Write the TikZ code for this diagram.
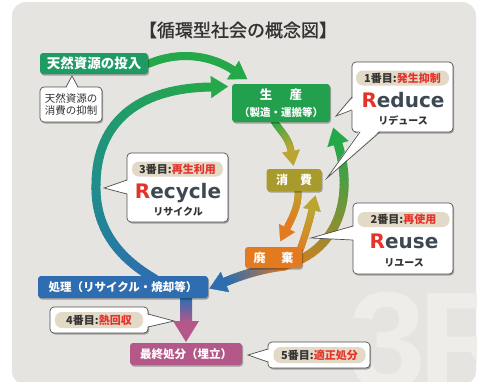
\documentclass[tikz,border=0pt]{standalone}
\usepackage{fontspec}
\setmainfont{Noto Sans CJK JP}
\newfontfamily\titlefont[FakeBold=1.2]{Noto Sans CJK JP}
\newfontfamily\latinbold{DejaVu Sans}
\newfontfamily\wmfont{Liberation Sans}
\usetikzlibrary{arrows.meta,shadows,calc}
\pgfdeclarelayer{bg}
\pgfdeclarelayer{arr}
\pgfsetlayers{bg,arr,main}
\definecolor{panel}{HTML}{E5E4E0}
\definecolor{wm}{HTML}{EEEDEA}
\definecolor{gA}{HTML}{1E9A63}
\definecolor{gB}{HTML}{22A04E}
\definecolor{arrG}{HTML}{25A84A}
\definecolor{olive}{HTML}{A99B2B}
\definecolor{oliveY}{HTML}{BBA532}
\definecolor{orng}{HTML}{E47A1F}
\definecolor{blu}{HTML}{2D6DB0}
\definecolor{tealc}{HTML}{1F8E8C}
\definecolor{pnk}{HTML}{B4588A}
\definecolor{redT}{HTML}{E5322B}
\definecolor{darkT}{HTML}{333333}
\definecolor{slate}{HTML}{3C4852}
\definecolor{pill}{HTML}{E3D9C7}
\definecolor{cbord}{HTML}{505050}
% gradient curve: start, c1, c2, end, colour start, colour end, width
\newcommand{\gseg}[7]{%
  \path (#1) .. controls (#2) and (#3) .. (#4)
    \foreach \k in {0,...,30}{ coordinate[pos=\k/30] (gq\k) };
  \foreach \k [evaluate=\k as \kn using int(\k+1), evaluate=\k as \pc using int((\k+0.5)*100/30)] in {0,...,29}{%
    \colorlet{gqc}{#6!\pc!#5}%
    \draw[line width=#7, line cap=round, gqc] (gq\k) -- (gq\kn);
  }%
}
% arrow head at end of last gradient curve: colour, length, width
\newcommand{\ghead}[3]{%
  \draw[line width=0.3pt, #1, -{Triangle[length=#2, width=#3]}, shorten >=-#2] (gq29) -- (gq30);
}
% callout box: name, x1, y1, x2, y2
\newcommand{\cbox}[5]{%
  \draw[cbord, line width=0.7pt, fill=white, rounded corners=4pt,
    drop shadow={shadow xshift=1.2pt,shadow yshift=-1.5pt,fill=black,opacity=0.3}] (#2,#3) rectangle (#4,#5);
  \coordinate (#1) at ($(#2,#3)!0.5!(#4,#5)$);
}
% pointer: base1, base2, tip, inset
\newcommand{\cptr}[4]{%
  \fill[white] ($(#1)+(#4)$) -- (#3) -- ($(#2)+(#4)$) -- cycle;
  \draw[cbord, line width=0.7pt, line join=miter] (#1) -- (#3) -- (#2);
}
\begin{document}
\begin{tikzpicture}[x=1pt,y=-1pt,
  boxn/.style={rounded corners=3pt, inner sep=0pt, text=white, font=\bfseries\fontsize{11.5}{13}\selectfont,
    drop shadow={shadow xshift=1pt,shadow yshift=-1.5pt,fill=black,opacity=0.3}},
  pillnode/.style={fill=pill, rounded corners=7pt, inner sep=0pt, minimum height=15pt, text=darkT, font=\bfseries\fontsize{11}{12}\selectfont},
  bigw/.style={anchor=base, inner sep=0pt, text=slate, font=\latinbold\bfseries\fontsize{20}{20}\selectfont},
  kana/.style={inner sep=0pt, text=darkT, font=\bfseries\fontsize{10}{11}\selectfont},
  txt/.style={inner sep=0pt, text=darkT}
]
\useasboundingbox (0,0) rectangle (484,381);

\begin{pgfonlayer}{bg}
  \fill[white] (0,0) rectangle (484,381);
  \fill[panel, rounded corners=14pt] (12,2) rectangle (476,385);
  \begin{scope}
    \clip[rounded corners=14pt] (12,2) rectangle (476,385);
    \node[anchor=base west, inner sep=0pt, text=wm, font=\wmfont\bfseries\fontsize{138}{138}\selectfont] (threeR) at (349,388) {3\kern-8pt R};
  \end{scope}
\end{pgfonlayer}

\begin{pgfonlayer}{arr}
  % natural resources -> production
  \gseg{148,64}{180,50}{212,56}{233,70}{arrG}{arrG}{8pt}
  \ghead{arrG}{17pt}{22pt}
  % big recycle arc
  \gseg{155,279}{115,256}{95,225}{96,185}{blu}{tealc}{9pt}
  \gseg{96,185}{96,125}{135,88}{211,87}{tealc}{arrG}{9pt}
  \ghead{arrG}{17pt}{22pt}
  % production -> consumption
  \gseg{274,121}{281,132}{289,138}{291,151}{arrG}{oliveY}{7pt}
  \ghead{oliveY}{15pt}{18pt}
  % consumption -> disposal
  \gseg{298,190}{299,205}{293,216}{287,228}{oliveY}{orng}{7pt}
  \ghead{orng}{15pt}{18pt}
  % disposal -> consumption (reuse)
  \gseg{300,250}{305,236}{309,223}{312,210}{orng}{oliveY}{7pt}
  \ghead{oliveY}{15pt}{18pt}
  % disposal -> production
  \gseg{282,266}{340,252}{354,195}{338,144}{orng}{arrG}{9pt}
  \ghead{arrG}{17pt}{22pt}
  % disposal -> treatment
  \gseg{285,266}{265,268}{244,274}{225,282}{orng}{blu}{9pt}
  \ghead{blu}{17pt}{22pt}
  % treatment -> final disposal
  \shade[top color=blu, bottom color=pnk] (180,298) rectangle (192,322);
  \fill[pnk] (173,321) -- (199,321) -- (186,342) -- cycle;
\end{pgfonlayer}

% title
\node[txt, font=\titlefont\fontsize{18}{20}\selectfont] (title) at (238,30) {【循環型社会の概念図】};

% main boxes
\node[boxn, fill=gA, minimum width=108pt, minimum height=21pt, font=\bfseries\fontsize{13.5}{15}\selectfont] (tianran) at (94,63.5) {天然資源の投入};
\node[boxn, fill=gB, minimum width=98pt, minimum height=38pt] (sheng) at (281,103) {};
\node[inner sep=0pt, text=white, font=\bfseries\fontsize{12.5}{14}\selectfont] (shengA) at (281,95) {生\hspace{1.4em}産};
\node[inner sep=0pt, text=white, font=\bfseries\fontsize{10.5}{12}\selectfont] (shengB) at (281,112) {（製造・運搬等）};
\node[boxn, fill=olive, minimum width=55pt, minimum height=22pt, font=\bfseries\fontsize{12}{14}\selectfont] (xiaofei) at (294,180) {消\hspace{1em}費};
\node[boxn, fill=orng, minimum width=57pt, minimum height=21pt, font=\bfseries\fontsize{12}{14}\selectfont] (feiqi) at (273.5,257.5) {廃\hspace{1.3em}棄};
\node[boxn, fill=blu, minimum width=170pt, minimum height=22pt] (chuli) at (123,287) {処理（リサイクル・焼却等）};
\node[boxn, fill=pnk, minimum width=112pt, minimum height=22pt] (zuizhong) at (186,354) {最終処分（埋立）};

% callout: natural resources
\cbox{tianC}{40}{87}{102}{122}
\cptr{66,87}{78,87}{72,76}{0,2}
\node[txt, align=center, font=\fontsize{10.5}{12.5}\selectfont] (tianCt) at (tianC) {天然資源の\\消費の抑制};

% Reduce
\cbox{reduceC}{352}{62}{453}{132}
\cptr{352,97}{352,110}{336,116}{2,0}
\cptr{360,132}{380,132}{327,178}{0,-2}
\node[pillnode, minimum width=93pt] (p1) at (402.5,78) {1番目:\textcolor{redT}{発生抑制}};
\node[bigw] (w1) at (403,107) {\textcolor{redT}{R}educe};
\node[kana] (k1) at (403,121) {リデュース};

% Recycle
\cbox{recycleC}{127}{153}{228}{222}
\cptr{127,180}{127,194}{104,188}{2,0}
\node[pillnode, minimum width=91pt] (p3) at (177.5,169) {3番目:\textcolor{redT}{再生利用}};
\node[bigw] (w3) at (178,198) {\textcolor{redT}{R}ecycle};
\node[kana] (k3) at (178,212) {リサイクル};

% Reuse
\cbox{reuseC}{353}{203}{453}{274}
\cptr{353,226}{353,240}{311,238}{2,0}
\node[pillnode, minimum width=92pt] (p2) at (403.5,219.5) {2番目:\textcolor{redT}{再使用}};
\node[bigw] (w2) at (404,248) {\textcolor{redT}{R}euse};
\node[kana] (k2) at (404,263) {リユース};

% 4th
\cbox{fourC}{50}{307}{148}{333}
\cptr{148,314}{148,327}{174,321}{-2,0}
\node[pillnode, minimum width=88pt, minimum height=16pt] (p4) at (99,320) {4番目:\textcolor{redT}{熱回収}};

% 5th
\cbox{fiveC}{268}{342}{370}{368}
\cptr{268,349}{268,362}{248,355}{2,0}
\node[pillnode, minimum width=92pt, minimum height=16pt] (p5) at (319.5,355) {5番目:\textcolor{redT}{適正処分}};
\end{tikzpicture}
\end{document}
